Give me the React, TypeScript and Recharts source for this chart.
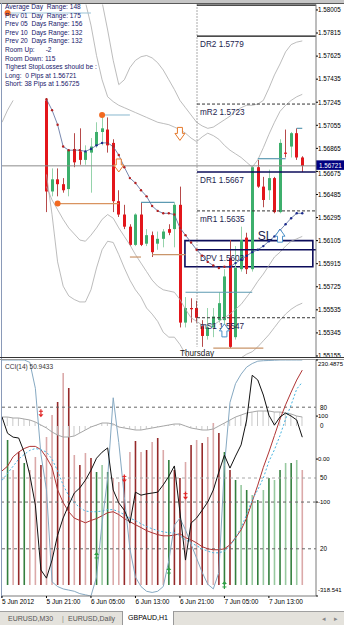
import React from 'react'
import {
  ComposedChart,
  Bar,
  Line,
  XAxis,
  YAxis,
  ReferenceLine,
  ReferenceArea,
  ReferenceDot,
  Cell,
} from 'recharts'

const FONT = "'Liberation Sans', Arial, sans-serif"

// bar index 0 = 5 Jun 13:00, one bar per hour (H1)
const barIndex = Array.from({ length: 55 }, (_, i) => i)
const timeTicks = [0, 8, 16, 24, 32, 40, 48]
const timeLabels = ['5 Jun 2012', '5 Jun 21:00', '6 Jun 05:00', '6 Jun 13:00', '6 Jun 21:00', '7 Jun 05:00', '7 Jun 13:00']

const priceTicks = [1.58005, 1.57815, 1.57625, 1.57435, 1.57245, 1.57055, 1.56865, 1.56675, 1.56485, 1.56295, 1.56105, 1.55915, 1.55725, 1.55535, 1.55345, 1.55155]
const bidPrice = 1.56721

const openP = [null, null, null, null, null, null, null, null,
  1.5726, 1.5651, 1.5661, 1.5657, 1.5653, 1.5686, 1.5684, 1.5677, 1.5683, 1.5689, 1.57, 1.5702, 1.5691, 1.5643, 1.5632, 1.5622,
  1.5607, 1.5632, 1.5608, 1.5615, 1.5608, 1.5612, 1.562, 1.562, 1.564, 1.5543, 1.5555, 1.5555, 1.554, 1.5532, 1.5539, 1.5545,
  1.5545, 1.5596, 1.5531, 1.5587, 1.5613, 1.5587, 1.5671, 1.5655, 1.5652, 1.5662, 1.5634, 1.5683, 1.5688, 1.5699, 1.5679]
const highP = [null, null, null, null, null, null, null, null,
  1.5728, 1.567, 1.567, 1.5662, 1.5686, 1.5699, 1.5703, 1.5689, 1.5695, 1.5708, 1.5714, 1.5712, 1.5694, 1.5652, 1.564, 1.5624,
  1.5633, 1.5642, 1.562, 1.5618, 1.5618, 1.562, 1.5624, 1.5642, 1.5655, 1.5564, 1.5563, 1.5561, 1.5545, 1.5555, 1.5555, 1.5568,
  1.5587, 1.5611, 1.5606, 1.5622, 1.5617, 1.5672, 1.5677, 1.5663, 1.5669, 1.5663, 1.5694, 1.5702, 1.57, 1.5703, 1.568]
const lowP = [null, null, null, null, null, null, null, null,
  1.5634, 1.5647, 1.5647, 1.565, 1.5647, 1.5671, 1.5673, 1.5673, 1.565, 1.5687, 1.5689, 1.5683, 1.5634, 1.563, 1.562, 1.5606,
  1.5606, 1.5606, 1.5606, 1.5597, 1.5603, 1.5605, 1.5615, 1.5605, 1.5539, 1.5539, 1.5543, 1.5543, 1.5523, 1.5529, 1.5531, 1.5543,
  1.5531, 1.5522, 1.5529, 1.5585, 1.5583, 1.5585, 1.5654, 1.5638, 1.5644, 1.5633, 1.5633, 1.5679, 1.5679, 1.5677, 1.5667]
const closeP = [null, null, null, null, null, null, null, null,
  1.5651, 1.5661, 1.5657, 1.5652, 1.5685, 1.5675, 1.5677, 1.5684, 1.5688, 1.57, 1.5703, 1.5689, 1.5643, 1.5632, 1.5622, 1.5607,
  1.5632, 1.5607, 1.5615, 1.5601, 1.5612, 1.5618, 1.5617, 1.564, 1.5543, 1.5555, 1.5554, 1.5547, 1.5532, 1.5539, 1.5548, 1.5559,
  1.5581, 1.5523, 1.5588, 1.5611, 1.5587, 1.5671, 1.5655, 1.5644, 1.5662, 1.5634, 1.5691, 1.5682, 1.5699, 1.5679, 1.5672]

const sarP = [null, null, null, null, null, null, null, null,
  1.5727, 1.5718, 1.5706, 1.5688, 1.5685, 1.5685, 1.5685, 1.5684, 1.5686, 1.5689, 1.5691, 1.5691, 1.5688, 1.5681, 1.5671, 1.5662,
  1.5658, 1.5652, 1.5647, 1.5639, 1.5635, 1.5633, 1.5633, 1.5632, 1.5621, 1.5615, 1.5609, 1.5603, 1.5598, 1.5593, 1.559, 1.5588,
  1.5589, 1.5589, 1.5592, 1.5595, 1.5598, 1.5601, 1.5603, 1.5606, 1.561, 1.5614, 1.5619, 1.5624, 1.5629, 1.5633, 1.5633]

const bandUpperOuter = [null, null, null, null, null, null, null, null, null, null, null, null, null, null, null, null, null,
  1.5825, 1.5807, 1.5784, 1.5759, 1.5739, 1.5743, 1.5753, 1.5759, 1.5762, 1.5763, 1.5761, 1.5757, 1.5751, 1.5743, 1.5735, 1.5726,
  1.572, 1.5714, 1.5708, 1.5705, 1.5703, 1.5704, 1.5707, 1.571, 1.5713, 1.5717, 1.572, 1.5722, 1.5722, 1.5723, 1.5726, 1.5736,
  1.5747, 1.5756, 1.5766, 1.5772, 1.5774, 1.5775]
const bandUpperInner = [null, null, null, null, null, null, null, null, null, null, null, null, null, null,
  1.5821, 1.5807, 1.5788, 1.5763, 1.5743, 1.5729, 1.5725, 1.5722, 1.572, 1.5718, 1.5716, 1.5714, 1.5712, 1.571, 1.5708, 1.5707,
  1.5706, 1.5704, 1.5702, 1.5699, 1.5695, 1.5692, 1.5696, 1.5699, 1.5697, 1.5694, 1.5689, 1.5685, 1.5682, 1.5679, 1.5675, 1.5671,
  1.5677, 1.5687, 1.5698, 1.5708, 1.5717, 1.5722, 1.5726, 1.5729, 1.5731]
const bandLowerInner = [null, null, null, null, null, null, null, null,
  1.5655, 1.5644, 1.5636, 1.5628, 1.5621, 1.5616, 1.5611, 1.561, 1.5615, 1.5621, 1.5628, 1.5632, 1.5629, 1.5621, 1.5614, 1.5607,
  1.5599, 1.5592, 1.5585, 1.5578, 1.5573, 1.557, 1.5569, 1.5568, 1.5562, 1.5554, 1.5547, 1.5544, 1.5541, 1.5541, 1.5541, 1.5544,
  1.5547, 1.555, 1.5554, 1.5558, 1.5564, 1.557, 1.5577, 1.5583, 1.559, 1.5597, 1.5601, 1.5606, 1.561, 1.5612, 1.5614]
const bandLowerOuter = [1.5708, 1.5718, 1.5726, null, null, null, null, null,
  1.5665, 1.5632, 1.5593, 1.5573, 1.5565, 1.5562, 1.556, 1.556, 1.557, 1.5588, 1.5603, 1.561, 1.5609, 1.5599, 1.5588, 1.5578,
  1.557, 1.5564, 1.5555, 1.555, 1.5544, 1.5535, 1.5531, 1.5531, 1.5525, 1.5517, 1.5511, 1.5508, 1.5506, 1.5505, 1.5506, 1.5508,
  1.5509, 1.5511, 1.5513, 1.5514, 1.5517, 1.5519, 1.5523, 1.5528, 1.5533, 1.5539, 1.5545, 1.555, 1.5554, 1.5557, 1.5559]

// daily pivot levels, drawn from the 7 Jun day separator
const separatorBar = 35.07
const pivotNames = ['DR2', 'mR2', 'DR1', 'mR1', 'DPV', 'mS1']
const pivotValues = [1.5779, 1.5723, 1.5667, 1.5635, 1.5603, 1.5547]
const pivotDashed = [false, true, false, true, false, true]

// fractal lines: start bar, end bar, price, kind
const fractalStart = [1, 18, 10, 23, 27, 25, 33, 38, 46, 53]
const fractalEnd = [16, 23, 21, 25, 33, 31, 45, 47, 51, 54]
const fractalPrice = [1.5798, 1.5714, 1.5641, 1.5597, 1.5599, 1.5642, 1.5568, 1.5522, 1.5678, 1.5703]
const fractalKind = ['up', 'up', 'dn', 'tan', 'tan', 'blue', 'blue', 'tan', 'blue', 'blue']

// CCI sub-window
const cciTicks = [230.4875, 100, 0, -100, -318.541]
const cciTickLabels = ['230.4875', '100', '0.00', '-100', '-318.541']
const stochLevels = [80, 50, 20]
const cciValues = [98, 60, 51, 49, 16, -37, -107, -258, -277, -235, -177, -137, -107, -79, -67, -49, -26, 2, 16, 26,
  -72, -102, -119, -149, -77, -84, -81, -79, -77, -60, -40, -16, -123, -235, -149, -137, -119, -100, -72, -30,
  9, -21, 7, 33, 91, 195, 184, 149, 102, 79, 98, 107, 100, 91, 50.94]
const stochMain = [100, 100, 100, 100, 100, 99, 88, 60, 45, 6, 4, 3, 2.5, 2, 1, 0.5, 0, 8, 31, 50,
  84, 65, 42, 20, 8, 4, 2, 1.5, 2, 4, 15, 30, 33, 28, 22, 16, 10, 5, 3, 10,
  55, 82, 90, 94, 97, 98.5, 99.5, 99.7, 99.8, 99.9, 100, 100, 100, 100, 100]
const signalRed = [53, 55, 59, 61, 62.5, 63.4, 63.4, 62, 58.7, 54.5, 45, 39.6, 35.7, 33, 32, 31, 32, 32.8, 34, 35.3,
  35.7, 34.5, 32.8, 31.5, 30.2, 29, 27.7, 26.8, 26, 25.5, 25.5, 25.8, 26.4, 24.7, 23.8, 22.5, 20.9, 20, 19.6, 19.6,
  20, 21.7, 24.7, 28, 33, 40, 47, 54.5, 61, 68, 75, 81, 86.4, 91.5, 95.7]
const signalDotted = [49, 52, 55, 58, 60, 61.7, 62.5, 62, 61, 58, 53, 47, 42.5, 39.6, 37.4, 36, 35.7, 35.7, 36, 36.6,
  36.6, 35.7, 34.5, 33, 32, 30.6, 29.4, 28.5, 27.7, 27.2, 26.8, 26.8, 25.5, 23.8, 22.5, 21.3, 20, 19, 18.3, 18.3,
  19, 21.3, 24.7, 29, 34.5, 40.8, 45, 50, 57, 62, 68, 75, 81, 87.7, 90.6]
const waveValues = [9, 9, 8, 8, 7, 6, 4, 1, -2, -6, -9, -11, -11, -10, -7, -4, -1, 1, 3, 3,
  2, -1, -2, -3, -4, -4, -3, -2, -1, 0, 1, 2, 2, 0, -2, -3, -4, -4, -3, 0,
  3, 6, 9, 11, 13, 14, 15, 15, 15, 14, 14, 13, 12, 10, 9]
const histValues = [null, 145, 115, 133, 122, 115, 128, 120, 148, 170, 183, 212, 197, 130, 120, 132, 127, 113, 120, 113,
  107, 103, 107, 133, 144, 133, 135, 143, 147, 135, 125, 115, 107, 123, 140, 145, 142, 148, 162, 152,
  133, 115, 105, 100, 95, 90, 85, 95, 107, 105, 115, 122, 122, 125, 115]
const histKind = ['dr', 'dg', 'pr', 'dr', 'dg', 'pr', 'pr', 'dr', 'pr', 'pr', 'dr', 'pr', 'dr', 'pr', 'dr', 'pr', 'dr', 'dg', 'lg', 'dg',
  'pr', 'pr', 'dr', 'pr', 'dr', 'pr', 'dr', 'pr', 'dr', 'pr', 'dg', 'dr', 'dr', 'pr', 'dr', 'pr', 'dr', 'pr', 'pr', 'dr',
  'dg', 'dr', 'dg', 'lg', 'dg', 'lg', 'dg', 'lg', 'dg', 'lg', 'dg', 'lg', 'dg', 'lg', 'pr']
const histColors: Record<string, string> = { dr: '#962a2a', pr: '#dba9a9', dg: '#347f3e', lg: '#98c9a0' }

const infoLines = [
  'Average Day  Range: 148',
  'Prev 01  Day  Range: 175',
  'Prev 05  Days Range: 156',
  'Prev 10  Days Range: 132',
  'Prev 20  Days Range: 132',
  'Room Up:      -2',
  'Room Down: 115',
  'Tighest StopLosses should be :',
  'Long:  0 Pips at 1.56721',
  'Short: 38 Pips at 1.56725',
]

const mainRows = barIndex.map((i) => ({
  i,
  o: openP[i],
  h: highP[i],
  l: lowP[i],
  c: closeP[i],
  sar: sarP[i],
  uo: bandUpperOuter[i],
  ui: bandUpperInner[i],
  li: bandLowerInner[i],
  lo: bandLowerOuter[i],
}))

const cciRows = barIndex.map((i) => ({
  i,
  cci: cciValues[i],
  stoch: stochMain[i],
  sig: signalRed[i],
  sigDot: signalDotted[i],
  wave: waveValues[i],
  hist: histValues[i],
}))

const X_DOMAIN: [number, number] = [0, 56.47]

const Candle = (props: any) => {
  const { x, y, width, height, payload } = props
  if (!payload || payload.o == null) return null
  const { o, h, l, c } = payload
  const top = Math.min(y, y + height)
  const span = Math.abs(height)
  const k = h - l > 0 ? span / (h - l) : 0
  const py = (p: number) => top + (h - p) * k
  const cx = Math.round(x + width / 2) + 0.5
  const up = c >= o
  const bodyTop = py(Math.max(o, c))
  const bodyH = Math.max(1, Math.abs(py(o) - py(c)))
  return (
    <g>
      <line x1={cx} x2={cx} y1={top} y2={top + span} stroke={up ? '#95d3ab' : '#b64a4a'} strokeWidth={1} />
      <rect x={cx - 1.5} y={bodyTop} width={3} height={bodyH} fill={up ? '#3daf6c' : '#e3161b'} />
    </g>
  )
}

const sarDot = (props: any) => {
  const { cx, cy, index, value } = props
  if (value == null || cx == null || cy == null) return <g key={`s${index}`} />
  const blue = (index >= 15 && index <= 18) || index >= 41
  return <circle key={`s${index}`} cx={cx} cy={cy} r={1.2} fill={blue ? '#1b2a8c' : '#b42020'} />
}

const hollowArrow = (color: string, down: boolean) => (p: any) => {
  const { cx, cy } = p
  const s = down ? 1 : -1
  const d = `M${cx - 2.5},${cy - 7 * s} L${cx + 2.5},${cy - 7 * s} L${cx + 2.5},${cy - s} L${cx + 5},${cy - s} L${cx},${cy + 6 * s} L${cx - 5},${cy - s} L${cx - 2.5},${cy - s} Z`
  return <path d={d} fill="#fff" stroke={color} strokeWidth={1} />
}

const smallArrow = (color: string, down: boolean) => (p: any) => {
  const { cx, cy } = p
  const s = down ? 1 : -1
  return (
    <g>
      <line x1={cx} x2={cx} y1={cy - 5 * s} y2={cy} stroke={color} strokeWidth={1.2} />
      <line x1={cx - 2} x2={cx + 2} y1={cy - 3 * s} y2={cy - 3 * s} stroke={color} strokeWidth={1} />
      <path d={`M${cx - 2.5},${cy} L${cx + 2.5},${cy} L${cx},${cy + 3 * s} Z`} fill={color} />
    </g>
  )
}

const levelLabel = (text: string) => (props: any) => {
  const vb = props.viewBox || {}
  return (
    <text x={vb.x + 3} y={vb.y + 11} fontSize={8.2} fill="#1c1c4e" fontFamily={FONT}>
      {text}
    </text>
  )
}

const bidLabel = (props: any) => {
  const vb = props.viewBox || {}
  const x = vb.x + vb.width
  return (
    <g>
      <rect x={x} y={vb.y - 5.5} width={28} height={9.5} fill="#000080" />
      <text x={x + 3} y={vb.y + 1.8} fontSize={6.3} fill="#fff" fontFamily={FONT}>
        {bidPrice.toFixed(5)}
      </text>
    </g>
  )
}

const PriceTick = (props: any) => {
  const { x, y, payload } = props
  // the tick right under the bid box is nudged down like the terminal does
  const dy = Math.abs(payload.value - 1.56675) < 1e-6 ? 4.5 : 2.3
  return (
    <text x={x} y={y + dy} fontSize={6.3} fill="#000" fontFamily={FONT}>
      {payload.value.toFixed(5)}
    </text>
  )
}

const sideLabel = (text: string) => (props: any) => {
  const vb = props.viewBox || {}
  return (
    <text x={vb.x + vb.width + 4} y={vb.y + 2.3} fontSize={6.3} fill="#000" fontFamily={FONT}>
      {text}
    </text>
  )
}

const thursdayLabel = (props: any) => {
  const vb = props.viewBox || {}
  return (
    <text x={vb.x} y={vb.y + vb.height + 9} fontSize={8.2} fill="#222" textAnchor="middle" fontFamily={FONT}>
      Thursday
    </text>
  )
}

const CciTick = (props: any) => {
  const { x, y, payload } = props
  const idx = cciTicks.indexOf(payload.value)
  const dy = idx === 0 ? 6 : idx === cciTicks.length - 1 ? -4 : 2.3
  return (
    <text x={x} y={y + dy} fontSize={6} fill="#000" fontFamily={FONT}>
      {cciTickLabels[idx]}
    </text>
  )
}

const TimeTick = (props: any) => {
  const { x, y, payload } = props
  const idx = timeTicks.indexOf(payload.value)
  return (
    <text x={x} y={y + 6} fontSize={6.5} fill="#000" fontFamily={FONT}>
      {timeLabels[idx]}
    </text>
  )
}

const fractalColor = (kind: string) =>
  kind === 'up' ? '#9cc3d6' : kind === 'dn' ? '#d9935f' : kind === 'tan' ? '#c9956a' : '#5c9ab2'

export default function App() {
  return (
    <div
      style={{
        position: 'absolute',
        left: 0,
        top: 0,
        width: 344,
        height: 625,
        background: '#fff',
        overflow: 'hidden',
        fontFamily: FONT,
      }}
    >
      <div style={{ position: 'absolute', left: 0, top: 0 }}>
        <ComposedChart width={344} height={360} data={mainRows} margin={{ top: 4.5, right: 0, bottom: 2.2, left: 2 }}>
          <XAxis dataKey="i" type="number" domain={X_DOMAIN} hide allowDataOverflow />
          <YAxis
            orientation="right"
            domain={[1.5514, 1.5805]}
            allowDataOverflow
            ticks={priceTicks}
            interval={0}
            width={28}
            tickSize={2}
            tickMargin={0}
            tick={<PriceTick />}
            tickLine={{ stroke: '#000' }}
            axisLine={{ stroke: '#7a7a7a' }}
          />

          <Line dataKey="uo" stroke="#ababab" strokeWidth={0.8} dot={false} isAnimationActive={false} />
          <Line dataKey="ui" stroke="#ababab" strokeWidth={0.8} dot={false} isAnimationActive={false} />
          <Line dataKey="li" stroke="#ababab" strokeWidth={0.8} dot={false} isAnimationActive={false} />
          <Line dataKey="lo" stroke="#ababab" strokeWidth={0.8} dot={false} isAnimationActive={false} />

          <ReferenceLine y={bidPrice} stroke="#8c8c8c" strokeWidth={1} label={bidLabel} />

          <ReferenceLine
            segment={[{ x: separatorBar, y: 1.5805 }, { x: separatorBar, y: 1.5523 }]}
            stroke="#555"
            strokeDasharray="1 2"
            label={thursdayLabel}
          />
          <ReferenceLine
            segment={[{ x: separatorBar, y: 1.58045 }, { x: X_DOMAIN[1], y: 1.58045 }]}
            stroke="#111"
            strokeWidth={1.2}
          />
          {pivotNames.map((name, k) => (
            <ReferenceLine
              key={name}
              segment={[{ x: separatorBar, y: pivotValues[k] }, { x: X_DOMAIN[1], y: pivotValues[k] }]}
              stroke={pivotDashed[k] ? '#333' : k === 0 ? '#111' : '#0c0c5a'}
              strokeWidth={pivotDashed[k] ? 1 : k === 0 ? 1.2 : 1.6}
              strokeDasharray={pivotDashed[k] ? '3 2' : undefined}
              label={levelLabel(`${name}  ${pivotValues[k].toFixed(4)}`)}
            />
          ))}
          <ReferenceArea
            x1={32.9}
            x2={55.9}
            y1={1.5589}
            y2={1.56105}
            fill="none"
            stroke="#0c0c5a"
            strokeWidth={1.6}
          />

          {fractalStart.map((s, k) => (
            <ReferenceLine
              key={`f${k}`}
              segment={[{ x: s, y: fractalPrice[k] }, { x: fractalEnd[k], y: fractalPrice[k] }]}
              stroke={fractalColor(fractalKind[k])}
              strokeWidth={1.2}
            />
          ))}
          {fractalStart.slice(0, 3).map((s, k) => (
            <ReferenceDot key={`fd${k}`} x={s} y={fractalPrice[k]} r={3} fill="#f26a21" stroke="none" />
          ))}

          <Bar
            dataKey={(d: any) => (d.o == null ? null : [d.l, d.h])}
            barSize={5}
            shape={(p: any) => <Candle {...p} />}
            isAnimationActive={false}
          />

          <Line
            dataKey="sar"
            stroke="#56699a"
            strokeWidth={0.8}
            dot={sarDot}
            activeDot={false}
            isAnimationActive={false}
          />

          <ReferenceDot x={32} y={1.5698} shape={hollowArrow('#e57a2c', true)} />
          <ReferenceDot x={21} y={1.5672} shape={hollowArrow('#e57a2c', true)} />
          <ReferenceDot x={50} y={1.5615} shape={hollowArrow('#4a90c8', false)} />
          <ReferenceDot x={40} y={1.5537} shape={hollowArrow('#4a90c8', false)} />
          <ReferenceDot
            x={47.3}
            y={1.5614}
            shape={(p: any) => (
              <text x={p.cx} y={p.cy + 4} fontSize={12} fill="#1c1c4e" textAnchor="middle" fontFamily={FONT}>
                SL
              </text>
            )}
          />
        </ComposedChart>
      </div>

      <div
        style={{
          position: 'absolute',
          left: 5,
          top: 3,
          fontSize: 6.6,
          lineHeight: '8.6px',
          color: '#17176a',
          whiteSpace: 'pre',
        }}
      >
        {infoLines.map((t) => (
          <div key={t}>{t}</div>
        ))}
      </div>

      <div style={{ position: 'absolute', left: 0, top: 0, width: 344, height: 3, background: '#c6c6c6' }} />
      <div style={{ position: 'absolute', left: 0, top: 3, width: 344, height: 1, background: '#5a5a5a' }} />
      <div style={{ position: 'absolute', left: 1, top: 3, width: 1, height: 595, background: '#8a9ab8' }} />
      <div style={{ position: 'absolute', left: 0, top: 357, width: 344, height: 1, background: '#333' }} />
      <div style={{ position: 'absolute', left: 0, top: 359, width: 344, height: 1, background: '#9a9a9a' }} />

      <div style={{ position: 'absolute', left: 0, top: 358 }}>
        <ComposedChart width={344} height={254} data={cciRows} margin={{ top: 2, right: 0, bottom: 0, left: 2 }}>
          <XAxis
            xAxisId="x"
            dataKey="i"
            type="number"
            domain={X_DOMAIN}
            allowDataOverflow
            ticks={timeTicks}
            interval={0}
            height={16}
            tickSize={2}
            tickMargin={0}
            tick={<TimeTick />}
            tickLine={{ stroke: '#000' }}
            axisLine={{ stroke: '#7a7a7a' }}
          />
          <XAxis xAxisId="xh" dataKey="i" type="number" domain={X_DOMAIN} allowDataOverflow hide />
          <XAxis xAxisId="xw" dataKey="i" type="number" domain={X_DOMAIN} allowDataOverflow hide />
          <YAxis
            yAxisId="cci"
            orientation="right"
            domain={[-318.541, 230.4875]}
            allowDataOverflow
            ticks={cciTicks}
            interval={0}
            width={28}
            tickSize={2}
            tickMargin={0}
            tick={<CciTick />}
            tickLine={{ stroke: '#000' }}
            axisLine={{ stroke: '#7a7a7a' }}
          />
          <YAxis yAxisId="stoch" domain={[0, 100]} allowDataOverflow hide />
          <YAxis yAxisId="wave" domain={[-170, 66]} allowDataOverflow hide />
          <YAxis yAxisId="hist" domain={[-11, 225]} allowDataOverflow hide />

          <Bar xAxisId="xh" yAxisId="hist" dataKey="hist" barSize={1.6} isAnimationActive={false}>
            {cciRows.map((r) => (
              <Cell key={r.i} fill={histColors[histKind[r.i]]} />
            ))}
          </Bar>
          <Bar xAxisId="xw" yAxisId="wave" dataKey="wave" barSize={1} fill="#c9c9c9" isAnimationActive={false} />
          <Line xAxisId="x" yAxisId="wave" dataKey="wave" stroke="#a6a6a6" strokeWidth={1} dot={false} isAnimationActive={false} />

          {stochLevels.map((v) => (
            <ReferenceLine
              key={v}
              xAxisId="x"
              yAxisId="stoch"
              y={v}
              stroke={v === 50 ? '#a8a8a8' : '#666'}
              strokeDasharray="3 3"
              label={sideLabel(String(v))}
            />
          ))}
          <ReferenceLine xAxisId="x" yAxisId="cci" y={-100} stroke="#666" strokeDasharray="3 3" />
          <ReferenceLine xAxisId="x" yAxisId="wave" y={0} stroke="none" label={sideLabel('0')} />

          <Line xAxisId="x" yAxisId="stoch" dataKey="sig" stroke="#b03434" strokeWidth={1} dot={false} isAnimationActive={false} />
          <Line
            xAxisId="x"
            yAxisId="stoch"
            dataKey="sigDot"
            stroke="#45b3e0"
            strokeWidth={1}
            strokeDasharray="2 2"
            dot={false}
            isAnimationActive={false}
          />
          <Line xAxisId="x" yAxisId="stoch" dataKey="stoch" stroke="#86a9c2" strokeWidth={1} dot={false} isAnimationActive={false} />
          <Line xAxisId="x" yAxisId="cci" dataKey="cci" stroke="#111" strokeWidth={1} dot={false} isAnimationActive={false} />

          <ReferenceDot xAxisId="x" yAxisId="stoch" x={7} y={77} shape={smallArrow('#e02424', true)} />
          <ReferenceDot xAxisId="x" yAxisId="stoch" x={22} y={49.4} shape={smallArrow('#e02424', true)} />
          <ReferenceDot xAxisId="x" yAxisId="stoch" x={33} y={42.1} shape={smallArrow('#e02424', true)} />
          <ReferenceDot xAxisId="x" yAxisId="stoch" x={17} y={17.4} shape={smallArrow('#2e9e44', false)} />
          <ReferenceDot xAxisId="x" yAxisId="stoch" x={30} y={11} shape={smallArrow('#2e9e44', false)} />
          <ReferenceDot xAxisId="x" yAxisId="stoch" x={40} y={5.1} shape={smallArrow('#2e9e44', false)} />
        </ComposedChart>
      </div>

      <div style={{ position: 'absolute', left: 5, top: 363, fontSize: 6.5, color: '#333' }}>CCI(14) 50.9433</div>

      <div
        style={{
          position: 'absolute',
          left: 0,
          top: 611,
          width: 344,
          height: 14,
          background: '#e4e2dc',
          borderTop: '1px solid #a0a0a0',
          fontSize: 7,
          color: '#555',
        }}
      >
        <span style={{ position: 'absolute', left: 8, top: 3 }}>EURUSD,M30</span>
        <span style={{ position: 'absolute', left: 62, top: 3, color: '#888' }}>|</span>
        <span style={{ position: 'absolute', left: 68, top: 3 }}>EURUSD,Daily</span>
        <span
          style={{
            position: 'absolute',
            left: 122,
            top: -1,
            width: 50,
            height: 14,
            background: '#fff',
            borderLeft: '1px solid #999',
            borderRight: '1px solid #999',
            color: '#000',
            textAlign: 'center',
            lineHeight: '14px',
          }}
        >
          GBPAUD,H1
        </span>
        <span style={{ position: 'absolute', left: 322, top: 3, color: '#888' }}>◂</span>
        <span style={{ position: 'absolute', left: 334, top: 3, color: '#888' }}>▸</span>
      </div>
    </div>
  )
}
